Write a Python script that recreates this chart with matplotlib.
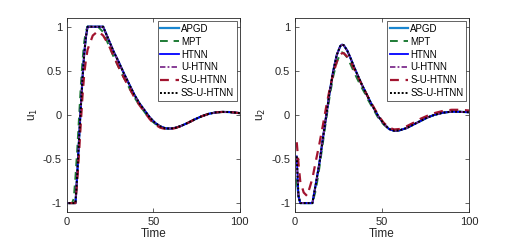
import matplotlib
matplotlib.use('Agg')
import matplotlib.pyplot as plt

plt.rcParams['font.family'] = ['Liberation Sans', 'DejaVu Sans']

# ---- data ----
t1 = [1, 3, 4, 5, 6, 7, 8, 9, 10, 11, 12, 15, 18, 21, 24, 27, 30, 33, 36, 39, 42, 45, 48,
      51, 54, 57, 60, 63, 66, 70, 74, 78, 82, 86, 90, 94, 97, 100]

u1_apgd = [-1, -1, -1, -1, -0.68, -0.3, 0.06, 0.4, 0.68, 0.88, 1, 1, 1, 1, 0.86, 0.72, 0.6,
           0.47, 0.35, 0.23, 0.13, 0.05, -0.03, -0.09, -0.13, -0.152, -0.155, -0.145, -0.125,
           -0.09, -0.05, -0.015, 0.012, 0.028, 0.034, 0.032, 0.027, 0.02]
u1_mpt = [-1, -1, -0.95, -0.7, -0.4, -0.05, 0.3, 0.6, 0.82, 0.95, 1, 1, 1, 0.94, 0.8, 0.66,
          0.54, 0.42, 0.31, 0.2, 0.11, 0.03, -0.05, -0.1, -0.135, -0.155, -0.157, -0.147,
          -0.125, -0.09, -0.05, -0.015, 0.012, 0.028, 0.034, 0.032, 0.027, 0.02]
u1_htnn = u1_apgd
u1_uhtnn = u1_apgd
u1_suhtnn = [-1, -1, -1, -1, -0.75, -0.45, -0.12, 0.2, 0.45, 0.62, 0.74, 0.9, 0.95, 0.9,
             0.8, 0.67, 0.54, 0.42, 0.31, 0.2, 0.11, 0.03, -0.05, -0.11, -0.145, -0.16,
             -0.16, -0.148, -0.125, -0.09, -0.05, -0.015, 0.012, 0.028, 0.034, 0.032, 0.027,
             0.02]
u1_ssuhtnn = u1_apgd

t2 = [1, 2, 3, 5, 7, 10, 12, 14, 16, 18, 20, 22, 24, 26, 27, 28, 30, 32, 34, 36, 38, 40,
      42, 44, 46, 48, 51, 54, 57, 60, 64, 68, 72, 76, 80, 85, 90, 95, 100]

u2_apgd = [-0.73, -0.92, -1, -1, -1, -1, -0.78, -0.55, -0.27, 0.0, 0.27, 0.5, 0.68, 0.78,
           0.796, 0.79, 0.73, 0.64, 0.54, 0.45, 0.36, 0.28, 0.2, 0.12, 0.05, -0.02, -0.1,
           -0.16, -0.18, -0.175, -0.15, -0.11, -0.07, -0.03, 0.0, 0.025, 0.037, 0.035, 0.03]
u2_mpt = [-0.73, -0.92, -1, -1, -1, -1, -0.85, -0.6, -0.32, -0.04, 0.22, 0.44, 0.6, 0.69,
          0.71, 0.7, 0.65, 0.57, 0.48, 0.4, 0.32, 0.25, 0.17, 0.1, 0.03, -0.04, -0.11,
          -0.16, -0.18, -0.175, -0.15, -0.11, -0.07, -0.03, 0.0, 0.025, 0.037, 0.035, 0.03]
u2_htnn = [-0.47] + u2_apgd[1:]
u2_uhtnn = [-0.47] + u2_apgd[1:]
u2_suhtnn = [-0.31, -0.55, -0.75, -0.88, -0.92, -0.72, -0.52, -0.33, -0.12, 0.1, 0.3, 0.47,
             0.6, 0.68, 0.7, 0.7, 0.66, 0.6, 0.52, 0.44, 0.36, 0.28, 0.2, 0.13, 0.06, -0.01,
             -0.09, -0.145, -0.165, -0.16, -0.13, -0.09, -0.045, -0.01, 0.02, 0.045, 0.058,
             0.058, 0.05]
u2_ssuhtnn = [-0.47] + u2_apgd[1:]

labels = ['APGD', 'MPT', 'HTNN', 'U-HTNN', 'S-U-HTNN', 'SS-U-HTNN']

styles = [
    dict(color='#1A86D0', ls='-', lw=1.6),
    dict(color='#1E7B35', ls=(0, (4, 3)), lw=1.4),
    dict(color='#0000FF', ls='-', lw=1.3),
    dict(color='#7E2F8E', ls=(0, (3, 1.2, 1, 1.2)), lw=1.3),
    dict(color='#A2142F', ls=(0, (4, 3)), lw=1.6),
    dict(color='black', ls=(0, (1, 1)), lw=1.4),
]

fig = plt.figure(figsize=(5.18, 2.45), dpi=100)
ax1 = fig.add_axes([0.129, 0.135, 0.334, 0.792])
ax2 = fig.add_axes([0.5695, 0.135, 0.336, 0.792])

panels = [
    (ax1, t1, [u1_apgd, u1_mpt, u1_htnn, u1_uhtnn, u1_suhtnn, u1_ssuhtnn], 'u$_1$'),
    (ax2, t2, [u2_apgd, u2_mpt, u2_htnn, u2_uhtnn, u2_suhtnn, u2_ssuhtnn], 'u$_2$'),
]

for ax, t, series, ylab in panels:
    for y, lab, st in zip(series, labels, styles):
        ax.plot(t, y, label=lab, **st)
    ax.set_xlim(0, 100)
    ax.set_ylim(-1.1, 1.1)
    ax.set_xticks([0, 50, 100])
    ax.set_yticks([-1, -0.5, 0, 0.5, 1])
    ax.set_yticklabels(['-1', '-0.5', '0', '0.5', '1'])
    ax.tick_params(direction='in', top=True, right=True, labelsize=8,
                   colors='#262626', length=3, width=0.5)
    for sp in ax.spines.values():
        sp.set_color('#262626')
        sp.set_linewidth(0.6)
    ax.set_xlabel('Time', fontsize=8.5, color='#262626', labelpad=1)
    ax.set_ylabel(ylab, fontsize=8.5, color='#262626', labelpad=2)
    leg = ax.legend(loc='upper right', fontsize=7, handlelength=1.9,
                    handletextpad=0.2, labelspacing=0.3, borderpad=0.3,
                    borderaxespad=0.3, fancybox=False, framealpha=1)
    leg.get_frame().set_edgecolor('#262626')
    leg.get_frame().set_linewidth(0.5)

fig.savefig('out.png', dpi=100)
